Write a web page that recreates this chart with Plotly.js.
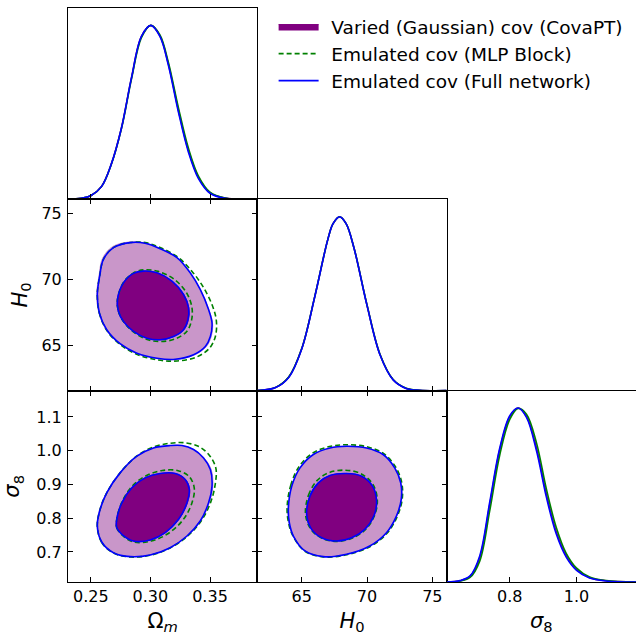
<!DOCTYPE html>
<html><head><meta charset="utf-8">
<script src="https://cdn.plot.ly/plotly-3.0.1.min.js"></script>
<style>html,body{margin:0;padding:0;background:#fff}#chart{width:636px;height:635px}</style>
</head><body><div id="chart"></div>
<script>
// ---------- tick values ----------
const omTicks = [0.25, 0.30, 0.35];
const h0Ticks = [65, 70, 75];
const s8TicksY = [0.7, 0.8, 0.9, 1.0, 1.1];
const s8TicksX = [0.8, 1.0];
const omRange = [0.2309, 0.3897];
const h0Range = [61.6, 76.1];
const s8Range = [0.611, 1.178];

const seriesNames = ["Varied (Gaussian) cov (CovaPT)", "Emulated cov (MLP Block)", "Emulated cov (Full network)"];

// ---------- Om - H0 contours ----------
const omh0_outer_purple_om = [0.2550,0.2568,0.2630,0.2744,0.2887,0.3057,0.3212,0.3368,0.3468,0.3510,0.3522,0.3490,0.3418,0.3332,0.3220,0.3080,0.2953,0.2825,0.2683,0.2598,0.2570,0.2550];
const omh0_outer_purple_h0 = [68.89,67.49,66.20,65.13,64.41,64.03,63.96,64.30,64.92,65.68,66.71,67.75,69.27,70.55,71.70,72.38,72.80,72.87,72.52,71.62,70.35,68.89];
const omh0_inner_purple_om = [0.2722,0.2730,0.2773,0.2858,0.2972,0.3084,0.3197,0.3282,0.3319,0.3323,0.3280,0.3182,0.3055,0.2941,0.2856,0.2772,0.2722];
const omh0_inner_purple_h0 = [68.51,67.62,66.85,66.09,65.58,65.46,65.71,66.22,66.98,67.87,68.89,69.90,70.53,70.66,70.49,69.77,68.51];
const omh0_outer_green_om = [0.2555,0.2572,0.2634,0.2746,0.2890,0.3066,0.3225,0.3385,0.3494,0.3545,0.3553,0.3519,0.3444,0.3351,0.3234,0.3091,0.2956,0.2830,0.2690,0.2606,0.2575,0.2555];
const omh0_outer_green_h0 = [68.89,67.49,66.17,65.10,64.34,63.92,63.85,64.14,64.80,65.71,66.93,68.07,69.44,70.62,71.69,72.41,72.82,72.83,72.44,71.55,70.30,68.89];
const omh0_inner_green_om = [0.2724,0.2732,0.2774,0.2858,0.2973,0.3091,0.3208,0.3305,0.3345,0.3349,0.3305,0.3202,0.3066,0.2947,0.2858,0.2774,0.2724];
const omh0_inner_green_h0 = [68.51,67.62,66.83,66.05,65.48,65.33,65.52,66.09,66.93,67.87,68.99,70.03,70.64,70.76,70.53,69.80,68.51];
const omh0_outer_blue_om = [0.2555,0.2572,0.2634,0.2746,0.2887,0.3055,0.3208,0.3362,0.3461,0.3503,0.3517,0.3488,0.3418,0.3334,0.3223,0.3082,0.2956,0.2830,0.2690,0.2606,0.2575,0.2555];
const omh0_outer_blue_h0 = [68.89,67.49,66.22,65.16,64.44,64.06,63.98,64.32,64.95,65.71,66.73,67.75,69.27,70.53,71.68,72.36,72.77,72.82,72.44,71.55,70.30,68.89];
const omh0_inner_blue_om = [0.2724,0.2732,0.2774,0.2858,0.2971,0.3082,0.3194,0.3278,0.3315,0.3320,0.3278,0.3181,0.3055,0.2942,0.2858,0.2774,0.2724];
const omh0_inner_blue_h0 = [68.51,67.62,66.85,66.09,65.58,65.46,65.71,66.22,66.98,67.87,68.89,69.90,70.53,70.66,70.49,69.77,68.51];

// ---------- Om - sigma8 contours ----------
const oms8_outer_purple_om = [0.2552,0.2590,0.2690,0.2830,0.3000,0.3170,0.3311,0.3423,0.3494,0.3524,0.3510,0.3450,0.3364,0.3265,0.3166,0.3024,0.2884,0.2743,0.2631,0.2575,0.2552];
const oms8_outer_purple_s8 = [0.7769,0.7296,0.6979,0.6861,0.6911,0.7127,0.7473,0.7916,0.8457,0.8951,0.9445,0.9787,1.0036,1.0154,1.0154,1.0083,0.9838,0.9344,0.8753,0.8260,0.7769];
const oms8_inner_purple_om = [0.2716,0.2716,0.2760,0.2858,0.3000,0.3127,0.3240,0.3311,0.3330,0.3295,0.3210,0.3082,0.2955,0.2843,0.2759,0.2716];
const oms8_inner_purple_s8 = [0.7967,0.7719,0.7523,0.7325,0.7355,0.7571,0.7967,0.8457,0.8853,0.9149,0.9326,0.9326,0.9196,0.8901,0.8457,0.7967];
const oms8_outer_green_om = [0.2555,0.2592,0.2690,0.2830,0.2998,0.3166,0.3313,0.3431,0.3506,0.3544,0.3549,0.3494,0.3402,0.3284,0.3166,0.3026,0.2887,0.2746,0.2634,0.2578,0.2555];
const oms8_outer_green_s8 = [0.7769,0.7281,0.6970,0.6852,0.6902,0.7118,0.7473,0.7946,0.8478,0.9010,0.9483,0.9867,1.0133,1.0237,1.0222,1.0113,0.9847,0.9344,0.8753,0.8260,0.7769];
const oms8_inner_green_om = [0.2718,0.2718,0.2761,0.2858,0.3007,0.3150,0.3276,0.3349,0.3368,0.3326,0.3233,0.3099,0.2965,0.2847,0.2761,0.2718];
const oms8_inner_green_s8 = [0.7967,0.7719,0.7503,0.7296,0.7325,0.7547,0.7961,0.8457,0.8892,0.9232,0.9409,0.9415,0.9261,0.8951,0.8478,0.7967];
const oms8_outer_blue_om = [0.2555,0.2592,0.2690,0.2830,0.2998,0.3166,0.3307,0.3418,0.3488,0.3517,0.3503,0.3446,0.3362,0.3265,0.3166,0.3026,0.2887,0.2746,0.2634,0.2578,0.2555];
const oms8_outer_blue_s8 = [0.7769,0.7296,0.6979,0.6861,0.6911,0.7127,0.7473,0.7916,0.8457,0.8951,0.9445,0.9787,1.0036,1.0154,1.0154,1.0083,0.9838,0.9344,0.8753,0.8260,0.7769];
const oms8_inner_blue_om = [0.2718,0.2718,0.2761,0.2858,0.2998,0.3124,0.3236,0.3307,0.3326,0.3292,0.3208,0.3082,0.2956,0.2845,0.2761,0.2718];
const oms8_inner_blue_s8 = [0.7967,0.7719,0.7523,0.7325,0.7355,0.7571,0.7967,0.8457,0.8853,0.9149,0.9326,0.9326,0.9196,0.8901,0.8457,0.7967];

// ---------- H0 - sigma8 contours ----------
const h0s8_outer_purple_h0 = [63.95,64.22,64.86,65.89,67.16,68.44,69.96,71.24,72.14,72.61,72.66,72.28,71.51,70.22,68.44,66.64,65.23,64.34,64.02,63.95];
const h0s8_outer_purple_s8 = [0.8310,0.8951,0.9492,0.9888,1.0083,1.0133,1.0083,0.9888,0.9492,0.9049,0.8558,0.8064,0.7571,0.7177,0.6932,0.6861,0.7030,0.7473,0.7866,0.8310];
const h0s8_inner_purple_h0 = [65.36,65.61,66.26,67.16,68.44,69.59,70.44,70.75,70.54,69.84,68.82,67.66,66.51,65.74,65.36];
const h0s8_inner_purple_s8 = [0.8114,0.8655,0.9049,0.9267,0.9326,0.9246,0.8951,0.8508,0.8064,0.7671,0.7423,0.7325,0.7423,0.7671,0.8114];
const h0s8_outer_green_h0 = [63.88,64.15,64.79,65.82,67.12,68.44,69.98,71.28,72.20,72.66,72.69,72.31,71.55,70.25,68.46,66.65,65.25,64.34,63.99,63.88];
const h0s8_outer_green_s8 = [0.8310,0.8966,0.9527,0.9926,1.0124,1.0178,1.0118,0.9912,0.9512,0.9054,0.8552,0.8049,0.7562,0.7163,0.6920,0.6852,0.7021,0.7464,0.7866,0.8310];
const h0s8_inner_green_h0 = [65.29,65.52,66.17,67.08,68.31,69.53,70.44,70.79,70.56,69.87,68.84,67.67,66.51,65.71,65.29];
const h0s8_inner_green_s8 = [0.8114,0.8685,0.9113,0.9349,0.9424,0.9320,0.9010,0.8537,0.8064,0.7659,0.7405,0.7310,0.7414,0.7665,0.8114];
const h0s8_outer_blue_h0 = [63.98,64.24,64.87,65.89,67.16,68.44,69.96,71.23,72.12,72.58,72.62,72.25,71.49,70.21,68.44,66.65,65.25,64.36,64.05,63.98];
const h0s8_outer_blue_s8 = [0.8310,0.8951,0.9492,0.9888,1.0083,1.0133,1.0083,0.9888,0.9492,0.9049,0.8558,0.8064,0.7571,0.7177,0.6932,0.6861,0.7030,0.7473,0.7866,0.8310];
const h0s8_inner_blue_h0 = [65.38,65.63,66.27,67.16,68.44,69.58,70.42,70.73,70.52,69.83,68.82,67.67,66.53,65.76,65.38];
const h0s8_inner_blue_s8 = [0.8114,0.8655,0.9049,0.9267,0.9326,0.9246,0.8951,0.8508,0.8064,0.7671,0.7423,0.7325,0.7423,0.7671,0.8114];

// ---------- 1D marginals ----------
const om_grid = [0.231,0.242,0.250,0.259,0.267,0.2757,0.2841,0.2925,0.3004,0.308,0.315,0.3234,0.3318,0.3402,0.350,0.3626,0.389];
const om_purple = [0,0.006,0.021,0.074,0.199,0.410,0.698,0.937,1.0,0.940,0.780,0.515,0.283,0.127,0.037,0.007,0];
const om_green  = [0,0.006,0.021,0.073,0.196,0.405,0.690,0.930,1.0,0.945,0.790,0.530,0.296,0.135,0.041,0.008,0];
const om_blue   = [0,0.006,0.021,0.073,0.198,0.409,0.697,0.937,1.0,0.937,0.774,0.505,0.274,0.121,0.035,0.006,0];

const h0_grid = [61.6,63.0,64.0,65.0,66.0,67.0,67.4,67.9,68.4,69.0,70.0,71.0,72.0,73.0,74.0,76.1];
const h0_purple = [0.001,0.018,0.077,0.241,0.541,0.870,0.960,1.0,0.960,0.821,0.491,0.206,0.063,0.013,0.002,0];
const h0_green  = [0.001,0.019,0.078,0.242,0.542,0.870,0.960,1.0,0.960,0.822,0.493,0.208,0.064,0.014,0.002,0];
const h0_blue   = [0.001,0.018,0.076,0.240,0.540,0.870,0.960,1.0,0.960,0.820,0.490,0.205,0.062,0.013,0.002,0];

const s8_grid = [0.611,0.651,0.681,0.710,0.740,0.770,0.800,0.825,0.850,0.880,0.9096,0.939,0.969,1.0,1.039,1.089,1.178];
const s8_purple = [0,0.007,0.032,0.140,0.445,0.760,0.950,1.0,0.953,0.770,0.505,0.290,0.151,0.071,0.025,0.007,0];
const s8_green  = [0,0.006,0.026,0.120,0.410,0.730,0.935,0.998,0.965,0.800,0.535,0.315,0.165,0.080,0.029,0.008,0];
const s8_blue   = [0,0.008,0.035,0.150,0.460,0.770,0.956,1.0,0.946,0.755,0.488,0.277,0.143,0.067,0.023,0.006,0];

// ---------- styles ----------
const PURPLE = '#800080', LIGHT = 'rgb(201,150,201)', GREEN = '#008000', BLUE = '#0000ff';
const FONT = 'DejaVu Sans, Verdana, sans-serif';
const LEAD = '\u00a0\u200a';

function fillT(x, y, xa, ya, col, legend) {
  return {type:'scatter', mode:'lines', x:x, y:y, xaxis:xa, yaxis:ya, fill:'toself', fillcolor:col,
    line:{color:col, width:1, shape:'spline', smoothing:1}, hoverinfo:'skip',
    showlegend:!!legend, name:LEAD + seriesNames[0], legendgroup:'a'};
}
function lineT(x, y, xa, ya, col, dash, idx, legend) {
  return {type:'scatter', mode:'lines', x:x, y:y, xaxis:xa, yaxis:ya,
    line:{color:col, width:1.6, dash:dash, shape:'spline', smoothing:1}, hoverinfo:'skip',
    showlegend:!!legend, name:LEAD + seriesNames[idx], legendgroup:'g'+idx};
}
const DASH = '5px,3px';
const traces = [];
// Om-H0 panel (x2,y2)
traces.push(fillT(omh0_outer_purple_om, omh0_outer_purple_h0, 'x2','y2', LIGHT));
traces.push(fillT(omh0_inner_purple_om, omh0_inner_purple_h0, 'x2','y2', PURPLE, true));
traces.push(lineT(omh0_outer_green_om, omh0_outer_green_h0, 'x2','y2', GREEN, DASH, 1, true));
traces.push(lineT(omh0_inner_green_om, omh0_inner_green_h0, 'x2','y2', GREEN, DASH, 1));
traces.push(lineT(omh0_outer_blue_om, omh0_outer_blue_h0, 'x2','y2', BLUE, 'solid', 2, true));
traces.push(lineT(omh0_inner_blue_om, omh0_inner_blue_h0, 'x2','y2', BLUE, 'solid', 2));
// Om-s8 panel (x4,y4)
traces.push(fillT(oms8_outer_purple_om, oms8_outer_purple_s8, 'x4','y4', LIGHT));
traces.push(fillT(oms8_inner_purple_om, oms8_inner_purple_s8, 'x4','y4', PURPLE));
traces.push(lineT(oms8_outer_green_om, oms8_outer_green_s8, 'x4','y4', GREEN, DASH, 1));
traces.push(lineT(oms8_inner_green_om, oms8_inner_green_s8, 'x4','y4', GREEN, DASH, 1));
traces.push(lineT(oms8_outer_blue_om, oms8_outer_blue_s8, 'x4','y4', BLUE, 'solid', 2));
traces.push(lineT(oms8_inner_blue_om, oms8_inner_blue_s8, 'x4','y4', BLUE, 'solid', 2));
// H0-s8 panel (x5,y5)
traces.push(fillT(h0s8_outer_purple_h0, h0s8_outer_purple_s8, 'x5','y5', LIGHT));
traces.push(fillT(h0s8_inner_purple_h0, h0s8_inner_purple_s8, 'x5','y5', PURPLE));
traces.push(lineT(h0s8_outer_green_h0, h0s8_outer_green_s8, 'x5','y5', GREEN, DASH, 1));
traces.push(lineT(h0s8_inner_green_h0, h0s8_inner_green_s8, 'x5','y5', GREEN, DASH, 1));
traces.push(lineT(h0s8_outer_blue_h0, h0s8_outer_blue_s8, 'x5','y5', BLUE, 'solid', 2));
traces.push(lineT(h0s8_inner_blue_h0, h0s8_inner_blue_s8, 'x5','y5', BLUE, 'solid', 2));
// 1D
traces.push(lineT(om_grid, om_purple, 'x','y', PURPLE, 'solid', 0));
traces.push(lineT(om_grid, om_green, 'x','y', GREEN, 'solid', 1));
traces.push(lineT(om_grid, om_blue, 'x','y', BLUE, 'solid', 2));
traces.push(lineT(h0_grid, h0_purple, 'x3','y3', PURPLE, 'solid', 0));
traces.push(lineT(h0_grid, h0_green, 'x3','y3', GREEN, 'solid', 1));
traces.push(lineT(h0_grid, h0_blue, 'x3','y3', BLUE, 'solid', 2));
traces.push(lineT(s8_grid, s8_purple, 'x6','y6', PURPLE, 'solid', 0));
traces.push(lineT(s8_grid, s8_green, 'x6','y6', GREEN, 'solid', 1));
traces.push(lineT(s8_grid, s8_blue, 'x6','y6', BLUE, 'solid', 2));

function ax(opts) {
  return Object.assign({showline:true, linecolor:'#000', linewidth:1, ticks:'inside', ticklen:5,
    tickwidth:1, tickcolor:'#000', showgrid:false, zeroline:false, fixedrange:true,
    tickfont:{family:FONT, size:16, color:'#000'}, automargin:false}, opts);
}
const tfont = {family:FONT, size:21, color:'#000'};
const c = [[0,1/3],[1/3,2/3],[2/3,1]];
const r = [[2/3,1],[1/3,2/3],[0,1/3]];

const layout = {
  width:636, height:635, margin:{l:68, r:0, t:8, b:53}, paper_bgcolor:'#fff', plot_bgcolor:'#fff',
  showlegend:true,
  legend:{x:0.362, y:1.0, xanchor:'left', yanchor:'top', font:{family:FONT, size:18.5, color:'#000'},
    bgcolor:'rgba(0,0,0,0)', traceorder:'normal', itemwidth:40},
  // Om 1D
  xaxis: ax({domain:c[0], anchor:'y', range:omRange, tickvals:omTicks, showticklabels:false, mirror:true}),
  yaxis: ax({domain:r[0], anchor:'x', range:[0,1.1], ticks:'', showticklabels:false, mirror:true}),
  // Om-H0
  xaxis2: ax({domain:c[0], anchor:'y2', range:omRange, tickvals:omTicks, showticklabels:false, mirror:'ticks'}),
  yaxis2: ax({domain:r[1], anchor:'x2', range:h0Range, tickvals:h0Ticks, mirror:'ticks', ticklabelstandoff:2,
    title:{text:'<i>H</i><sub>0</sub>', font:tfont, standoff:8}}),
  // H0 1D
  xaxis3: ax({domain:c[1], anchor:'y3', range:h0Range, tickvals:h0Ticks, showticklabels:false, mirror:true}),
  yaxis3: ax({domain:r[1], anchor:'x3', range:[0,1.1], ticks:'', showticklabels:false, mirror:true}),
  // Om-s8
  xaxis4: ax({domain:c[0], anchor:'y4', range:omRange, tickvals:omTicks, tickformat:'.2f', mirror:'ticks',
    title:{text:'Ω<sub><i>m</i></sub>', font:tfont, standoff:14}}),
  yaxis4: ax({domain:r[2], anchor:'x4', range:s8Range, tickvals:s8TicksY, tickformat:'.1f', mirror:'ticks', ticklabelstandoff:2,
    title:{text:'<i>σ</i><sub>8</sub>', font:tfont, standoff:10}}),
  // H0-s8
  xaxis5: ax({domain:c[1], anchor:'y5', range:h0Range, tickvals:h0Ticks, mirror:'ticks',
    title:{text:'<i>H</i><sub>0</sub>', font:tfont, standoff:15}}),
  yaxis5: ax({domain:r[2], anchor:'x5', range:s8Range, tickvals:s8TicksY, showticklabels:false, mirror:'ticks'}),
  // s8 1D
  xaxis6: ax({domain:c[2], anchor:'y6', range:s8Range, tickvals:s8TicksX, tickformat:'.1f', mirror:true,
    title:{text:'<i>σ</i><sub>8</sub>', font:tfont, standoff:15}}),
  yaxis6: ax({domain:r[2], anchor:'x6', range:[0,1.1], ticks:'', showticklabels:false, mirror:false})
};
Plotly.newPlot('chart', traces, layout, {staticPlot:true, displayModeBar:false});
</script></body></html>
